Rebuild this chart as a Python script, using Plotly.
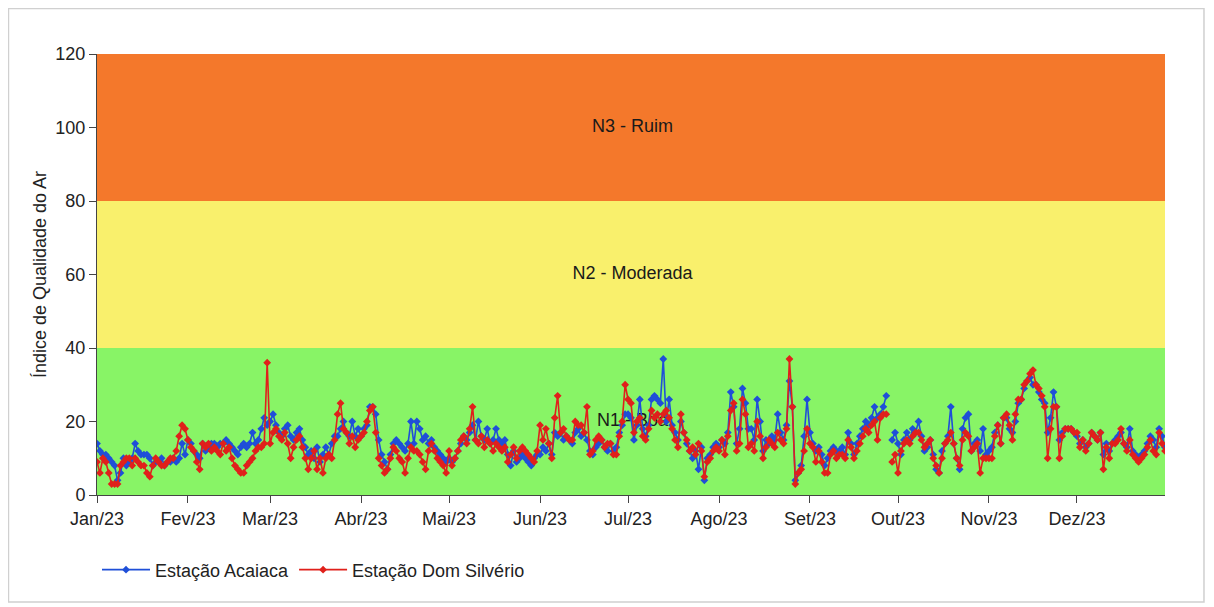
import pandas as pd
import plotly.graph_objects as go

# ---- Data (daily IQA, 2023) ----
acaiaca_jan = [14, 12, 11, 11, 10, 9, 8, 4, 6, 10, 8, 9, 10, 14, 12, 11, 11, 11, 10, 8, 9, 9, 10, 8, 9, 9, 10, 9, 10, 14, 11]
acaiaca_fev = [15, 14, 12, 11, 10, 14, 12, 13, 14, 14, 13, 14, 14, 15, 14, 13, 12, 11, 13, 14, 13, 14, 17, 14, 15, 18, 21, 19]
acaiaca_mar = [20, 22, 19, 17, 16, 18, 19, 16, 15, 17, 18, 15, 13, 11, 12, 10, 13, 9, 11, 13, 11, 14, 16, 16, 18, 20, 17, 16, 20, 16, 18]
acaiaca_abr = [16, 18, 19, 24, 24, 22, 15, 11, 9, 7, 11, 14, 15, 14, 13, 12, 14, 20, 14, 20, 18, 15, 16, 14, 15, 13, 12, 11, 10, 9]
acaiaca_mai = [10, 9, 10, 12, 14, 16, 15, 17, 19, 15, 20, 16, 15, 18, 14, 15, 18, 15, 14, 15, 11, 8, 12, 9, 10, 11, 10, 9, 8, 10, 11]
acaiaca_jun = [11, 13, 12, 14, 11, 17, 16, 17, 15, 16, 15, 14, 17, 18, 16, 17, 15, 12, 11, 13, 14, 15, 13, 12, 14, 12, 13, 17, 19, 22]
acaiaca_jul = [22, 21, 15, 19, 26, 18, 16, 19, 26, 27, 26, 25, 37, 20, 26, 19, 17, 15, 20, 17, 14, 12, 10, 12, 7, 13, 4, 10, 11, 13, 14]
acaiaca_ago = [13, 15, 14, 17, 28, 24, 14, 18, 29, 25, 18, 18, 15, 26, 20, 12, 15, 14, 16, 15, 22, 17, 15, 19, 31, 24, 4, 6, 8, 16, 26]
acaiaca_set = [17, 14, 12, 13, 11, 8, 10, 12, 13, 12, 12, 13, 11, 17, 14, 11, 14, 16, 18, 20, 19, 21, 24, 21, 22, 24, 27, None, 15, 17]
acaiaca_out = [14, 11, 15, 17, 15, 18, 17, 20, 16, 12, 13, 15, 11, 7, 6, 12, 14, 16, 24, 14, 10, 7, 18, 21, 22, 12, 14, 15, 12, 18, 11]
acaiaca_nov = [12, 13, 17, 19, 14, 21, 21, 18, 17, 20, 25, 26, 29, 31, 32, 30, 30, 28, 26, 25, 17, 21, 28, 24, 15, 17, 18, 18, 18, 17]
acaiaca_dez = [16, 14, 15, 13, 14, 17, 16, 15, 17, 11, 14, 12, 14, 15, 16, 17, 14, 13, 18, 12, 11, 10, 11, 12, 14, 16, 15, 13, 18, 16, 13]

domsilverio_jan = [9, 6, 10, 9, 6, 3, 3, 3, 8, 9, 10, 10, 8, 10, 9, 8, 8, 6, 5, 8, 10, 9, 8, 8, 9, 10, 10, 12, 16, 19, 18]
domsilverio_fev = [15, 13, 12, 9, 7, 14, 13, 14, 12, 13, 12, 11, 14, 12, 13, 10, 8, 7, 6, 6, 8, 9, 10, 12, 13, 13, 14, 36]
domsilverio_mar = [14, 17, 18, 16, 15, 17, 14, 10, 13, 15, 16, 13, 10, 7, 10, 12, 7, 10, 6, 10, 11, 10, 15, 22, 25, 18, 17, 14, 16, 13, 15]
domsilverio_abr = [16, 17, 20, 23, 24, 17, 10, 8, 6, 7, 10, 13, 12, 10, 9, 6, 10, 13, 12, 12, 11, 9, 7, 12, 14, 12, 10, 9, 8, 6]
domsilverio_mai = [12, 8, 10, 12, 15, 16, 14, 18, 24, 15, 14, 16, 13, 15, 14, 12, 14, 13, 12, 13, 9, 11, 13, 10, 12, 13, 12, 11, 10, 9, 12]
domsilverio_jun = [19, 15, 18, 14, 10, 21, 27, 17, 18, 16, 15, 15, 20, 19, 19, 17, 24, 11, 12, 15, 16, 15, 13, 14, 14, 11, 11, 16, 20, 30]
domsilverio_jul = [26, 25, 17, 20, 21, 16, 15, 18, 23, 21, 22, 20, 22, 23, 21, 18, 15, 13, 22, 17, 15, 12, 13, 11, 14, 12, 5, 9, 10, 12, 13]
domsilverio_ago = [12, 15, 11, 16, 23, 25, 12, 14, 26, 22, 13, 14, 12, 20, 16, 10, 13, 15, 14, 13, 17, 15, 14, 18, 37, 24, 3, 6, 7, 12, 18]
domsilverio_set = [14, 13, 9, 12, 9, 6, 6, 11, 12, 10, 11, 11, 10, 15, 13, 10, 12, 14, 16, 18, 17, 19, 20, 15, 21, 22, 22, None, 9, 11]
domsilverio_out = [6, 12, 14, 15, 14, 16, 17, 17, 15, 13, 14, 15, 10, 8, 6, 10, 14, 15, 17, 14, 10, 8, 15, 17, 16, 12, 13, 14, 6, 10, 10]
domsilverio_nov = [10, 10, 16, 19, 14, 21, 22, 19, 15, 22, 26, 26, 30, 31, 33, 34, 30, 29, 27, 24, 10, 18, 24, 24, 10, 16, 18, 18, 18, 17]
domsilverio_dez = [17, 13, 15, 12, 14, 17, 16, 15, 17, 7, 13, 10, 14, 14, 15, 18, 14, 12, 15, 11, 10, 9, 10, 11, 13, 15, 12, 11, 17, 14, 12]

month_ticks = ["2023-01-01", "2023-02-01", "2023-03-01", "2023-04-01", "2023-05-01", "2023-06-01",
               "2023-07-01", "2023-08-01", "2023-09-01", "2023-10-01", "2023-11-01", "2023-12-01"]
month_labels = ["Jan/23", "Fev/23", "Mar/23", "Abr/23", "Mai/23", "Jun/23",
                "Jul/23", "Ago/23", "Set/23", "Out/23", "Nov/23", "Dez/23"]

band_limits = [0, 40, 80, 120]
band_labels = ["N1 - Boa", "N2 - Moderada", "N3 - Ruim"]
band_colors = ["#88F466", "#F9F06C", "#F4782B"]

acaiaca = (acaiaca_jan + acaiaca_fev + acaiaca_mar + acaiaca_abr + acaiaca_mai + acaiaca_jun +
           acaiaca_jul + acaiaca_ago + acaiaca_set + acaiaca_out + acaiaca_nov + acaiaca_dez)
domsilverio = (domsilverio_jan + domsilverio_fev + domsilverio_mar + domsilverio_abr + domsilverio_mai +
               domsilverio_jun + domsilverio_jul + domsilverio_ago + domsilverio_set + domsilverio_out +
               domsilverio_nov + domsilverio_dez)
dates = pd.date_range("2023-01-01", periods=len(acaiaca), freq="D")

FONT = "Liberation Sans, Arial, sans-serif"

fig = go.Figure()

# band labels (drawn as a trace so the lines pass over them)
mid_date = pd.Timestamp("2023-07-02 12:00")
fig.add_trace(go.Scatter(
    x=[mid_date] * 3,
    y=[(band_limits[i] + band_limits[i + 1]) / 2 for i in range(3)],
    mode="text", text=band_labels, textfont=dict(size=18, color="#1a1a1a", family=FONT),
    showlegend=False, hoverinfo="skip"))

fig.add_trace(go.Scatter(
    x=dates, y=acaiaca, name="Estação Acaiaca", mode="lines+markers",
    line=dict(color="#1F4FD8", width=1.6),
    marker=dict(symbol="diamond", size=6, color="#1F4FD8"),
    connectgaps=False))
fig.add_trace(go.Scatter(
    x=dates, y=domsilverio, name="Estação Dom Silvério", mode="lines+markers",
    line=dict(color="#E0201B", width=1.6),
    marker=dict(symbol="diamond", size=6, color="#E0201B"),
    connectgaps=False))

shapes = []
for i in range(3):
    shapes.append(dict(type="rect", xref="paper", yref="y", x0=0, x1=1,
                       y0=band_limits[i], y1=band_limits[i + 1],
                       fillcolor=band_colors[i], line=dict(width=0), layer="below"))
# outer frame
shapes.append(dict(type="rect", xref="paper", yref="paper",
                   x0=-0.0829, x1=1.0365, y0=-0.2426, y1=1.1032,
                   line=dict(color="#D0D0D0", width=1.5), fillcolor="rgba(0,0,0,0)", layer="below"))

fig.update_layout(
    width=1206, height=599,
    margin=dict(l=89, r=49, t=46, b=112),
    paper_bgcolor="white", plot_bgcolor="white",
    font=dict(family=FONT, size=18, color="#222222"),
    shapes=shapes,
    showlegend=True,
    legend=dict(orientation="h", x=0.0, y=-0.17, xanchor="left", yanchor="middle",
                font=dict(size=18, color="#222222"), bgcolor="rgba(0,0,0,0)",
                itemwidth=48, tracegroupgap=0),
    xaxis=dict(range=["2023-01-01", "2023-12-31"], tickvals=month_ticks, ticktext=month_labels,
               showgrid=False, zeroline=False, showline=True, linecolor="#444444", linewidth=1,
               ticks="outside", ticklen=7, tickcolor="#444444", tickfont=dict(size=18)),
    yaxis=dict(range=[0, 120], tickvals=[0, 20, 40, 60, 80, 100, 120],
               showgrid=False, zeroline=False, showline=True, linecolor="#444444", linewidth=1,
               ticks="outside", ticklen=7, tickcolor="#444444", tickfont=dict(size=18),
               title=dict(text="Índice de Qualidade do Ar", font=dict(size=18), standoff=4)),
)

fig.write_html("out.html")
